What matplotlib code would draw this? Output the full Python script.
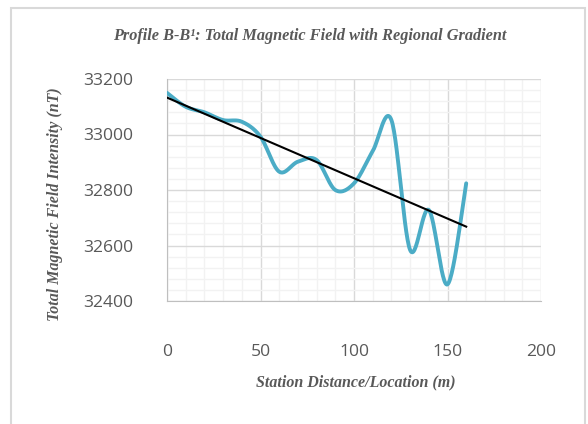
import matplotlib
matplotlib.use("Agg")
import matplotlib.pyplot as plt
import numpy as np
from matplotlib.patches import Rectangle

# station distance (m) and total field (nT)
station = [0, 10, 20, 30, 40, 50, 60, 70, 80, 90, 100, 110, 120, 130, 140, 150, 160]
field = [33150, 33100, 33080, 33052, 33046, 32992, 32866, 32902, 32908, 32800,
         32824, 32940, 33052, 32584, 32728, 32460, 32824]

xticks = [0, 50, 100, 150, 200]
yticks = [32400, 32600, 32800, 33000, 33200]


def excel_smooth(xs, ys, n=30):
    # bezier smoothing like excel's "smoothed line"
    xs = np.asarray(xs, float)
    ys = np.asarray(ys, float)
    px = np.concatenate([[xs[0]], xs, [xs[-1]]])
    py = np.concatenate([[ys[0]], ys, [ys[-1]]])
    outx, outy = [], []
    t = np.linspace(0, 1, n)
    for i in range(1, len(px) - 2):
        p0 = np.array([px[i], py[i]])
        p3 = np.array([px[i + 1], py[i + 1]])
        c1 = p0 + (np.array([px[i + 1], py[i + 1]]) - np.array([px[i - 1], py[i - 1]])) / 6
        c2 = p3 - (np.array([px[i + 2], py[i + 2]]) - np.array([px[i], py[i]])) / 6
        b = ((1 - t) ** 3)[:, None] * p0 + (3 * (1 - t) ** 2 * t)[:, None] * c1 \
            + (3 * (1 - t) * t ** 2)[:, None] * c2 + (t ** 3)[:, None] * p3
        outx.extend(b[:, 0])
        outy.extend(b[:, 1])
    return outx, outy


fig = plt.figure(figsize=(5.88, 4.24), dpi=100)
fig.patches.append(Rectangle((11 / 588, -0.05), 574 / 588, 1.05 - 8 / 424,
                             transform=fig.transFigure, fill=False,
                             edgecolor="#D9D9D9", linewidth=1.5))

ax = fig.add_axes([167 / 588, 1 - 301 / 424, 374 / 588, 222 / 424])

sx, sy = excel_smooth(station, field)
ax.plot(sx, sy, color="#4BACC6", linewidth=2.8, solid_capstyle="round", zorder=3)

coef = np.polyfit(station, field, 1)
tx = np.array([station[0], station[-1]])
ax.plot(tx, np.polyval(coef, tx), color="black", linewidth=1.5, zorder=4)

ax.set_xlim(0, 200)
ax.set_ylim(32400, 33200)
ax.set_xticks(xticks)
ax.set_yticks(yticks)
ax.set_xticks(np.arange(0, 201, 10), minor=True)
ax.set_yticks(np.arange(32400, 33201, 40), minor=True)
ax.grid(which="minor", color="#F2F2F2", linewidth=1)
ax.grid(which="major", color="#D9D9D9", linewidth=1)
ax.set_axisbelow(True)
ax.tick_params(which="both", length=0)
ax.tick_params(axis="x", pad=31, labelsize=12.6, labelcolor="#595959")
ax.tick_params(axis="y", pad=24, labelsize=12.6, labelcolor="#595959")
for lab in ax.get_xticklabels() + ax.get_yticklabels():
    lab.set_fontfamily("Open Sans")
for s in ["top", "right"]:
    ax.spines[s].set_visible(False)
for s in ["left", "bottom"]:
    ax.spines[s].set_color("#BFBFBF")

fig.text(310 / 588, 1 - 36 / 424, "Profile B-B¹: Total Magnetic Field with Regional Gradient",
         ha="center", va="center", family="Liberation Serif", style="italic",
         weight="bold", fontsize=11.7, color="#595959")
fig.text(356 / 588, 1 - 382 / 424, "Station Distance/Location (m)",
         ha="center", va="center", family="Liberation Serif", style="italic",
         weight="bold", fontsize=11.5, color="#595959")
fig.text(55 / 588, 1 - 204 / 424, "Total Magnetic Field Intensity (nT)",
         ha="center", va="center", rotation=90, family="Liberation Serif",
         style="italic", weight="bold", fontsize=11.5, color="#595959")

fig.savefig("out.png", dpi=100)
